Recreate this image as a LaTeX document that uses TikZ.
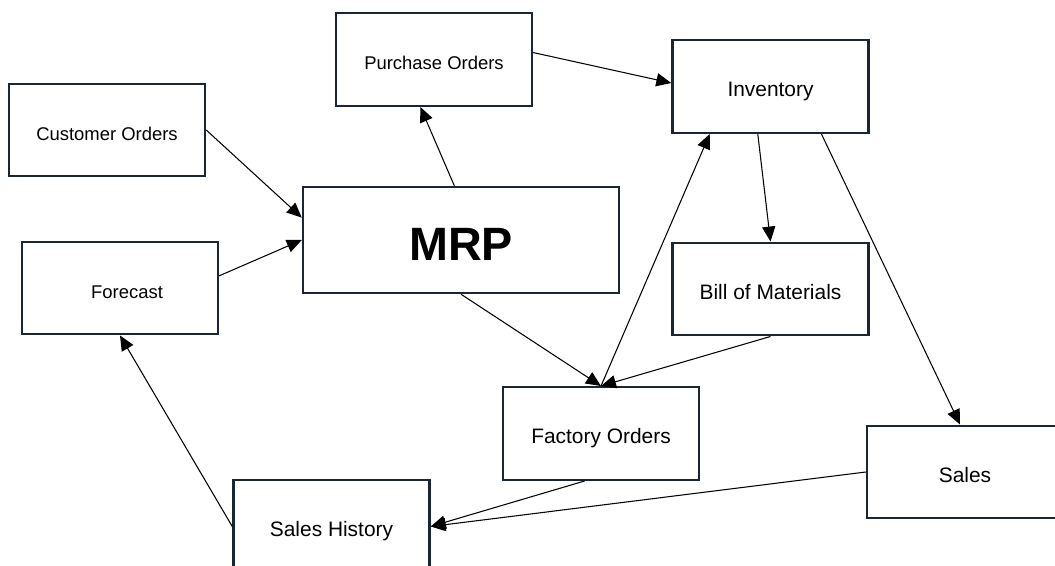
\documentclass[tikz,border=0pt]{standalone}
\usepackage{fontspec}
\setmainfont{Liberation Sans}
\usetikzlibrary{shapes,arrows.meta}
\definecolor{boxline}{HTML}{1B2633}

\begin{document}
\begin{tikzpicture}[
  >={Triangle[length=8.5pt,width=7.5pt]},
  box/.style={draw=boxline, line width=1.4pt, minimum width=3.92cm, minimum height=1.85cm,
              text height=11.8pt, text depth=0pt},
  small/.style={font=\fontsize{10.5}{12}\selectfont},
  big/.style={font=\fontsize{11.9}{14}\selectfont},
  link/.style={->, line width=0.6pt}
]
  \useasboundingbox (0,0) rectangle (21.1,-11.32);

  % the boxes
  \node[box,small] (cust) at (2.14,-2.60) {Customer Orders};
  \node[box,small] (purch) at (8.68,-1.19) {Purchase Orders};
  \node[box,big] (inv) at (15.41,-1.73) {Inventory};
  \node[box, minimum width=6.32cm, minimum height=2.12cm, text height=23pt,
        font=\bfseries\fontsize{26.6}{30}\selectfont] (mrp) at (9.22,-4.80) {MRP};
  \node[box,small] (fore) at (2.40,-5.76) {\hspace*{0.28cm}Forecast};
  \node[box,big] (bom) at (15.41,-5.78) {Bill of Materials};
  \node[box,big] (fact) at (12.02,-8.67) {Factory Orders};
  \node[box,big] (sales) at (19.30,-9.44) {Sales};
  \node[box,big] (hist) at (6.63,-10.53) {Sales History};

  % the flows
  \draw[link] (cust.east) -- (mrp.172);
  \draw[link] (fore.7) -- (mrp.west);
  \draw[link] (mrp.97) -- (purch.254);
  \draw[link] (purch.4) -- (inv.178);
  \draw[link] (inv.255) -- (bom.north);
  \draw[link] (inv.317) -- (sales.96);
  \draw[link] (mrp.south) -- (fact.north);
  \draw[link] (fact.north) -- (inv.218);
  \draw[link] (bom.south) -- (fact.north);
  \draw[link] (fact.251) -- (hist.east);
  \draw[link] (sales.west) -- (hist.east);
  \draw[link] (hist.west) -- (fore.south);
\end{tikzpicture}
\end{document}
